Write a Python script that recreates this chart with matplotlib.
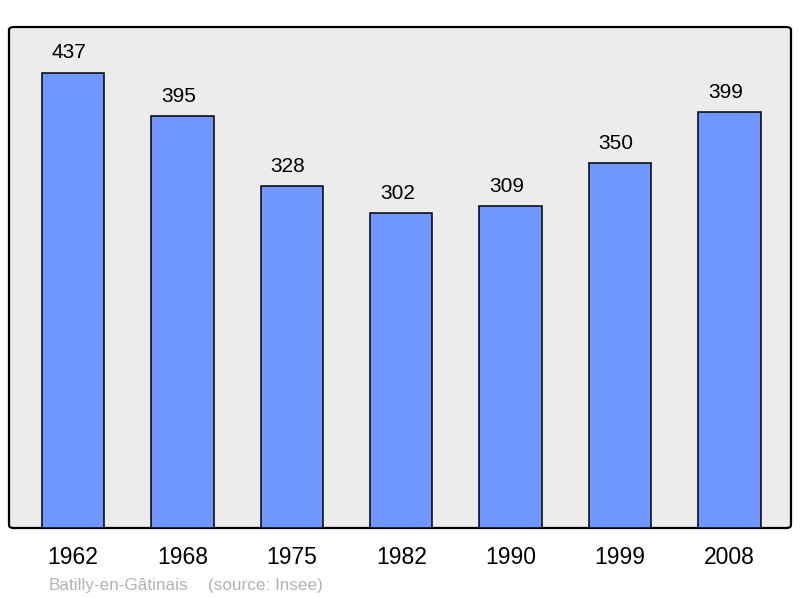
import matplotlib
matplotlib.use("Agg")
import matplotlib.pyplot as plt
from matplotlib.patches import FancyBboxPatch

years = ["1962", "1968", "1975", "1982", "1990", "1999", "2008"]
population = [437, 395, 328, 302, 309, 350, 399]
commune = "Batilly-en-Gâtinais"
source = "(source: Insee)"

plt.rcParams['font.family'] = ['Liberation Sans', 'DejaVu Sans']

fig = plt.figure(figsize=(8, 5.98), dpi=100)
ax = fig.add_axes([9/800, 1-528/598, 782/800, 501/598])
ax.set_facecolor('none')
for s in ax.spines.values():
    s.set_visible(False)

frame = FancyBboxPatch((0, 0), 1, 1, boxstyle="round,pad=0,rounding_size=0.006",
                       transform=ax.transAxes, facecolor='#ececec', edgecolor='black',
                       linewidth=1.6, zorder=0, clip_on=False)
ax.add_patch(frame)

x = list(range(len(years)))
ax.bar(x, population, width=0.57, color='#7096ff', edgecolor='black', linewidth=1.1, zorder=2)
for xi, v in zip(x, population):
    ax.annotate(str(v), (xi, v), xytext=(-2.9, 7.5), textcoords='offset points',
                ha='center', va='bottom', fontsize=15, color='black')

ax.set_xlim(-0.585, 6.562)
ax.set_ylim(0, max(population) * 1.1)
ax.set_yticks([])
ax.set_xticks(x)
ax.set_xticklabels(years, fontsize=16.5)
ax.tick_params(axis='x', length=0, pad=13)

fig.text(49/800, 1-590/598, commune, fontsize=12.3, color='#b3b3b3',
         ha='left', va='baseline')
fig.text(208/800, 1-590/598, source, fontsize=12.3, color='#b3b3b3',
         ha='left', va='baseline')

fig.savefig("out.png", dpi=100)
